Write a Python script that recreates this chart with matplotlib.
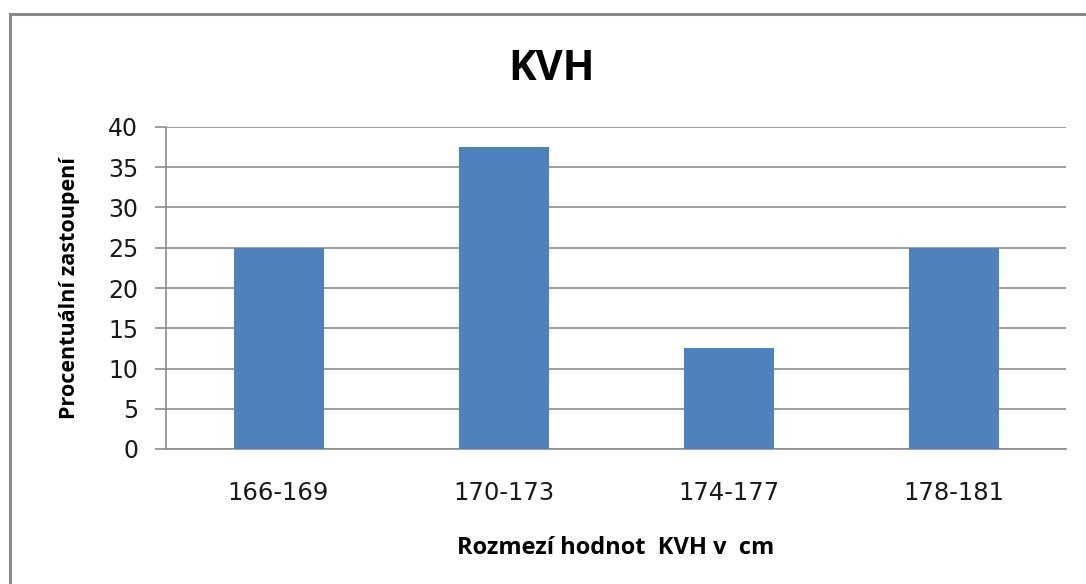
import numpy as np
import matplotlib.pyplot as plt
from matplotlib.patches import Rectangle

categories = ["166-169", "170-173", "174-177", "178-181"]
values = [25, 37.5, 12.5, 25]
yticks = [0, 5, 10, 15, 20, 25, 30, 35, 40]

W, H = 1086, 584
fig = plt.figure(figsize=(W / 100, H / 100), dpi=100)
ax = fig.add_axes([166 / W, 1 - 449 / H, 900 / W, 322 / H])

x = np.arange(len(categories))
ax.bar(x, values, width=0.4, color="#4F81BD", zorder=3)

ax.set_xlim(-0.5, len(categories) - 0.5)
ax.set_ylim(0, 40)
ax.set_yticks(yticks)
ax.set_xticks(x)
ax.set_xticklabels(categories)

ax.grid(axis="y", color="#8c8c8c", linewidth=1.2, zorder=0)
for s in ["top", "right"]:
    ax.spines[s].set_visible(False)
ax.spines["left"].set_color("#8c8c8c")
ax.spines["left"].set_linewidth(1.2)
ax.spines["bottom"].set_color("#8c8c8c")
ax.spines["bottom"].set_linewidth(1.2)

ax.tick_params(axis="y", length=8, width=1.2, color="#8c8c8c", pad=12,
               labelsize=17, labelcolor="#1a1a1a")
ax.tick_params(axis="x", length=0, pad=23, labelsize=17.5, labelcolor="#1a1a1a")

ax.set_ylabel("Procentuální zastoupení", fontsize=15.5, fontweight="bold",
              family="Open Sans", labelpad=20)
ax.set_xlabel("Rozmezí hodnot  KVH v  cm", fontsize=17, fontweight="bold",
              family="Open Sans", labelpad=22)

fig.text(552 / W, 1 - 69 / H, "KVH", fontsize=30, fontweight="bold",
         family="Open Sans", ha="center", va="center")

fig.patches.append(Rectangle((10 / W, -0.1), 1.2, 1 - 14 / H + 0.1,
                             transform=fig.transFigure, fill=False,
                             edgecolor="#8a8a8a", linewidth=2.2))

fig.savefig("out.png", dpi=100)
